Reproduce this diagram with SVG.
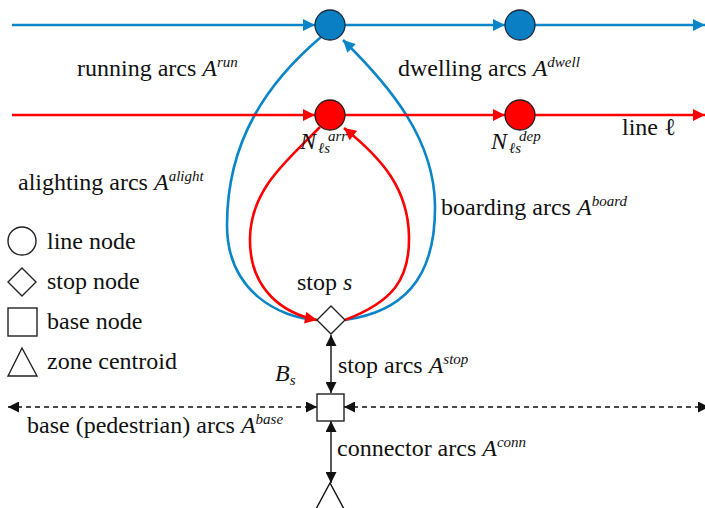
<svg xmlns="http://www.w3.org/2000/svg" width="705" height="508" viewBox="0 0 705 508">
<defs>
<style>
text{font-family:'Liberation Serif',serif;font-size:24px;fill:#111}
.it{font-style:italic}
.sup{font-size:15px;font-style:italic}
.blue{stroke:#0a86c8;stroke-width:2.6;fill:none}
.red{stroke:#ff0000;stroke-width:2.6;fill:none}
.blk{stroke:#111;stroke-width:1.4;fill:none}
.dash{stroke:#111;stroke-width:1.4;fill:none;stroke-dasharray:5 4}
.leg{fill:#fff;stroke:#222;stroke-width:1.4}
.nb{fill:#0a7fc4;stroke:#1a2a3a;stroke-width:1.3}
.nr{fill:#ff0000;stroke:#2a1a1a;stroke-width:1.3}
</style>
<marker id="ab" viewBox="0 0 10 10" refX="10" refY="5" markerWidth="14" markerHeight="12" markerUnits="userSpaceOnUse" orient="auto"><path d="M0,0 L10,5 L0,10 z" fill="#0a86c8"/></marker>
<marker id="ar" viewBox="0 0 10 10" refX="10" refY="5" markerWidth="14" markerHeight="12" markerUnits="userSpaceOnUse" orient="auto"><path d="M0,0 L10,5 L0,10 z" fill="#ff0000"/></marker>
<marker id="ak" viewBox="0 0 10 10" refX="10" refY="5" markerWidth="12" markerHeight="11" markerUnits="userSpaceOnUse" orient="auto"><path d="M0,0 L10,5 L0,10 z" fill="#111"/></marker>
<marker id="aks" viewBox="0 0 10 10" refX="0" refY="5" markerWidth="12" markerHeight="11" markerUnits="userSpaceOnUse" orient="auto"><path d="M10,0 L0,5 L10,10 z" fill="#111"/></marker>
</defs>
<rect width="705" height="508" fill="#fff"/>

<g id="connectors">
  <path class="blue" d="M321,37 C268,82 227,140 227,225 C227,292 280,318 317,320"/>
  <path class="blue" d="M345,320 C400,312 436,282 435,205 C434,140 392,88 343,40" marker-end="url(#ab)"/>
  <path class="red" d="M320,127 C288,160 251,188 250,238 C249,292 286,314 317,320" marker-end="url(#ar)"/>
  <path class="red" d="M345,320 C392,302 410,280 409,236 C408,190 384,160 344,128" marker-end="url(#ar)"/>
  <path class="blue" d="M12,25 H315" marker-end="url(#ab)"/>
  <path class="blue" d="M345,25 H505" marker-end="url(#ab)"/>
  <path class="blue" d="M535,25 H705" marker-end="url(#ab)"/>
  <path class="red" d="M12,115 H315" marker-end="url(#ar)"/>
  <path class="red" d="M345,115 H505" marker-end="url(#ar)"/>
  <path class="red" d="M535,115 H705" marker-end="url(#ar)"/>
  <path class="blk" d="M331,335 V393" marker-start="url(#aks)" marker-end="url(#ak)"/>
  <path class="blk" d="M331,421 V483" marker-start="url(#aks)" marker-end="url(#ak)"/>
  <path class="dash" d="M8,407 H317" marker-start="url(#aks)" marker-end="url(#ak)"/>
  <path class="dash" d="M344,407 H709" marker-start="url(#aks)" marker-end="url(#ak)"/>
</g>

<g id="node-run1"><circle class="nb" cx="330" cy="25" r="15"/></g>
<g id="node-run2"><circle class="nb" cx="520" cy="25" r="15"/></g>
<g id="node-arr"><circle class="nr" cx="330" cy="115" r="15"/></g>
<g id="node-dep"><circle class="nr" cx="520" cy="115" r="15"/></g>
<g id="stop-node"><polygon class="leg" points="331,306 345,320 331,334 317,320"/></g>
<g id="base-node"><rect class="leg" x="317" y="394" width="27" height="27"/></g>
<g id="zone-centroid"><polyline class="blk" points="316,509 330,483 344,509"/></g>

<g id="labels">
  <text x="77" y="76">running arcs <tspan class="it">A</tspan><tspan class="sup" dy="-9">run</tspan></text>
  <text x="398" y="76">dwelling arcs <tspan class="it">A</tspan><tspan class="sup" dy="-9">dwell</tspan></text>
  <text x="622" y="135">line ℓ</text>
  <text x="300" y="149" class="it">N<tspan class="sup" x="318" y="153">ℓs</tspan><tspan class="sup" x="328" y="141">arr</tspan></text>
  <text x="491" y="149" class="it">N<tspan class="sup" x="509" y="153">ℓs</tspan><tspan class="sup" x="519" y="141">dep</tspan></text>
  <text x="18" y="190">alighting arcs <tspan class="it">A</tspan><tspan class="sup" dy="-9">alight</tspan></text>
  <text x="441" y="215">boarding arcs <tspan class="it">A</tspan><tspan class="sup" dy="-9">board</tspan></text>
  <text x="297" y="290">stop <tspan class="it">s</tspan></text>
  <text x="338" y="373">stop arcs <tspan class="it">A</tspan><tspan class="sup" dy="-9">stop</tspan></text>
  <text x="275" y="381" class="it">B<tspan class="sup" dy="4">s</tspan></text>
  <text x="27" y="433">base (pedestrian) arcs <tspan class="it">A</tspan><tspan class="sup" dy="-9">base</tspan></text>
  <text x="337" y="456">connector arcs <tspan class="it">A</tspan><tspan class="sup" dy="-9">conn</tspan></text>
</g>

<g id="legend">
  <circle class="leg" cx="22" cy="241" r="14"/>
  <polygon class="leg" points="22,268 36,282 22,296 8,282"/>
  <rect class="leg" x="8" y="308" width="29" height="28"/>
  <polygon class="leg" points="22,348 37,376 8,376"/>
  <text x="47" y="249">line node</text>
  <text x="47" y="289">stop node</text>
  <text x="47" y="329">base node</text>
  <text x="47" y="369">zone centroid</text>
</g>
</svg>
